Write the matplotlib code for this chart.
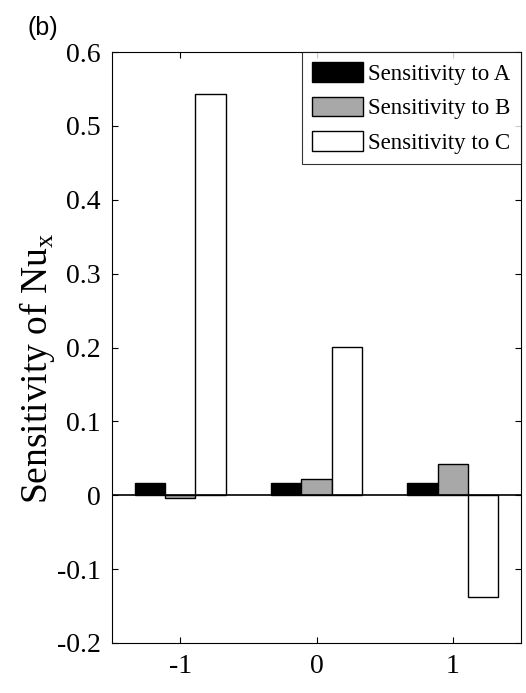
import matplotlib
matplotlib.use("Agg")
import matplotlib.pyplot as plt
import numpy as np

categories = [-1, 0, 1]
sens_A = [0.016, 0.017, 0.017]
sens_B = [-0.004, 0.022, 0.042]
sens_C = [0.543, 0.201, -0.138]
series_labels = ["Sensitivity to A", "Sensitivity to B", "Sensitivity to C"]
y_ticks = [-0.2, -0.1, 0, 0.1, 0.2, 0.3, 0.4, 0.5, 0.6]
y_ticklabels = ["-0.2", "-0.1", "0", "0.1", "0.2", "0.3", "0.4", "0.5", "0.6"]

plt.rcParams['font.family'] = ['Liberation Serif', 'DejaVu Serif']
plt.rcParams['mathtext.fontset'] = 'custom'
plt.rcParams['mathtext.rm'] = 'Liberation Serif'

fig = plt.figure(figsize=(5.26, 6.93), dpi=100)
ax = fig.add_axes([112/526, 1-643/693, (521-112)/526, (643-52)/693])

w = 0.222
x = np.array(categories, dtype=float)
colors = ["#000000", "#a8a8a8", "#ffffff"]
for i, (vals, col, lab) in enumerate(zip([sens_A, sens_B, sens_C], colors, series_labels)):
    ax.bar(x + (i - 1) * w, vals, width=w, color=col, edgecolor="black",
           linewidth=1.0, label=lab, zorder=2)

ax.axhline(0, color="black", linewidth=1.2, zorder=3)
ax.set_xlim(-1.5, 1.5)
ax.set_ylim(-0.2, 0.6)
ax.set_xticks(categories)
ax.set_xticklabels([str(c) for c in categories], fontsize=20)
ax.set_yticks(y_ticks)
ax.set_yticklabels(y_ticklabels, fontsize=20)
ax.tick_params(direction="in", top=True, right=True, length=4, width=0.8, pad=8)
for s in ax.spines.values():
    s.set_linewidth(0.8)
ax.set_ylabel(r"Sensitivity of Nu$_\mathregular{x}$", fontsize=27, labelpad=6)
ax.yaxis.set_label_coords(-0.135, 0.465)

leg = ax.legend(loc="upper right", fontsize=16.5, frameon=True, fancybox=False,
                edgecolor="black", borderpad=0.45, labelspacing=0.5,
                handlelength=2.2, handleheight=0.95, handletextpad=0.25,
                borderaxespad=0.0)
leg.get_frame().set_linewidth(0.8)

fig.text(43/526, 1-28/693, "(b)", fontsize=18, family="Liberation Sans",
         va="center", ha="center")

fig.savefig("out.png", dpi=100)
